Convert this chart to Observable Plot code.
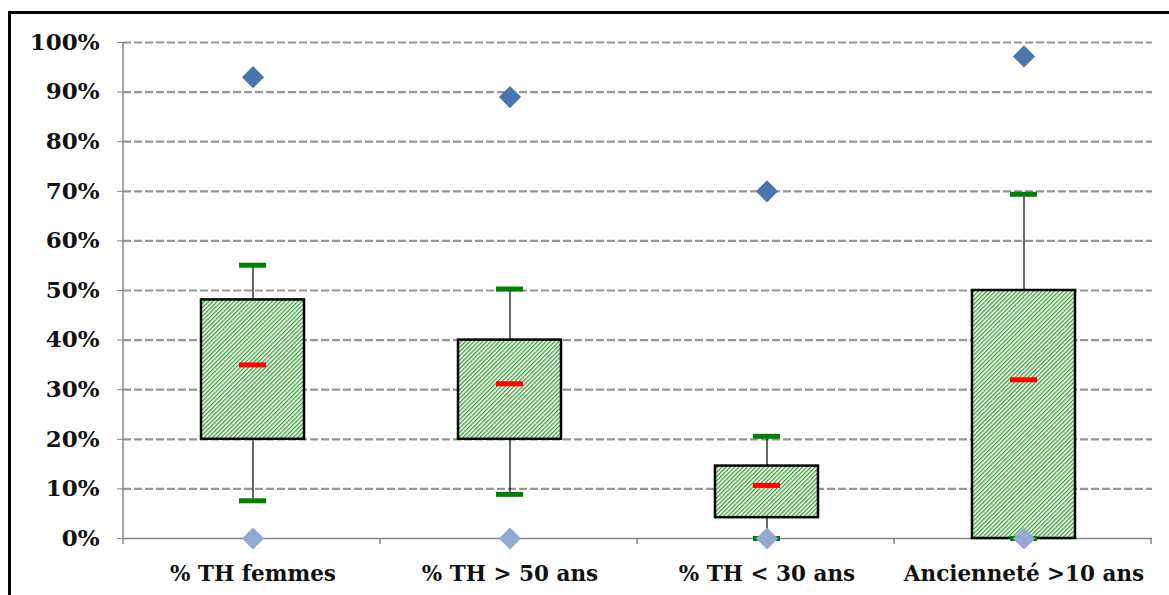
<!DOCTYPE html>
<html><head><meta charset="utf-8">
<script src="https://cdn.jsdelivr.net/npm/d3@7"></script>
<script src="https://cdn.jsdelivr.net/npm/@observablehq/plot@0.6"></script>
<style>
html,body{margin:0;padding:0;background:#fff;width:1169px;height:595px;overflow:hidden;position:relative}
#border{position:absolute;left:8px;top:11px;width:2000px;height:2000px;border:3px solid #000;box-sizing:border-box}
#chart{position:absolute;left:0;top:0}
</style></head><body>
<div id="border"></div><div id="chart"></div>
<script>
const categories = ["% TH femmes", "% TH > 50 ans", "% TH < 30 ans", "Ancienneté >10 ans"];
const maxValues = [0.93, 0.89, 0.70, 0.972];
const whiskerHigh = [0.551, 0.503, 0.206, 0.694];
const q3Values = [0.481, 0.40, 0.146, 0.50];
const medianValues = [0.35, 0.312, 0.107, 0.32];
const q1Values = [0.20, 0.20, 0.042, 0.00];
const whiskerLow = [0.076, 0.089, 0.00, 0.00];
const minValues = [0, 0, 0, 0];
const yTicks = [0, 0.1, 0.2, 0.3, 0.4, 0.5, 0.6, 0.7, 0.8, 0.9, 1.0];

const rows = categories.map((c, i) => ({
  cat: c, max: maxValues[i], hi: whiskerHigh[i], q3: q3Values[i],
  med: medianValues[i], q1: q1Values[i], lo: whiskerLow[i], min: minValues[i]
}));

const font = "'DejaVu Serif', serif";
const plot = Plot.plot({
  width: 1169, height: 595,
  marginLeft: 123, marginRight: 17, marginTop: 42, marginBottom: 57,
  style: {background: "transparent", fontFamily: font, overflow: "visible"},
  x: {domain: categories, padding: 0, label: null},
  y: {domain: [0, 1], label: null},
  marks: [
    Plot.ruleY(yTicks.filter(d => d > 0), {stroke: "#959595", strokeWidth: 2.2, strokeDasharray: "8,3"}),
    Plot.ruleY([0], {stroke: "#868686", strokeWidth: 1.5}),
    Plot.axisY({ticks: yTicks, tickFormat: d3.format(".0%"), tickSize: 6, tickPadding: 18,
      stroke: "#868686", fill: "#111", fontSize: 23, fontWeight: "bold", label: null}),
    Plot.axisX({tickSize: 0, tickPadding: 27, fontSize: 21.5, fontWeight: "bold", fill: "#111", label: null}),
    Plot.ruleX(rows, {x: "cat", y1: "q3", y2: "hi", stroke: "#000", strokeWidth: 1.2}),
    Plot.ruleX(rows, {x: "cat", y1: "lo", y2: "q1", stroke: "#000", strokeWidth: 1.2}),
    Plot.barY(rows, {x: "cat", y1: "q1", y2: "q3", fill: "url(#hatch)", stroke: "#000", strokeWidth: 2.5, insetLeft: 77, insetRight: 77}),
    Plot.tickY(rows, {x: "cat", y: "hi", stroke: "#008000", strokeWidth: 5, insetLeft: 115, insetRight: 115}),
    Plot.tickY(rows, {x: "cat", y: "lo", stroke: "#008000", strokeWidth: 5, insetLeft: 115, insetRight: 115}),
    Plot.tickY(rows, {x: "cat", y: "med", stroke: "#ff0000", strokeWidth: 5, insetLeft: 115, insetRight: 115}),
    Plot.dot(rows, {x: "cat", y: "max", symbol: "diamond2", r: 10, fill: "#4A76AB", stroke: "none"}),
    Plot.dot(rows, {x: "cat", y: "min", symbol: "diamond2", r: 10, fill: "#93A9D1", stroke: "none"})
  ]
});

// hatch pattern for the boxes (diagonal green stripes on white)
const svg = d3.select(plot);
const pat = svg.insert("defs", ":first-child").append("pattern")
  .attr("id", "hatch").attr("patternUnits", "userSpaceOnUse")
  .attr("width", 3).attr("height", 3)
  .attr("patternTransform", "rotate(45)");
pat.append("rect").attr("width", 3).attr("height", 3).attr("fill", "#ffffff");
pat.append("rect").attr("width", 1.4).attr("height", 3).attr("fill", "#3fa03f");

// Excel-like y axis line and category boundary ticks, from the plot's own scales
const xs = plot.scale("x"), ys = plot.scale("y");
const x0 = xs.range[0], step = xs.step;
const yTop = ys.apply(1), yBot = ys.apply(0);
const g = svg.append("g").attr("stroke", "#868686").attr("stroke-width", 1.5);
g.append("line").attr("x1", x0).attr("x2", x0).attr("y1", yTop).attr("y2", yBot + 6);
for (let i = 1; i <= categories.length; i++) {
  const bx = x0 + i * step;
  g.append("line").attr("x1", bx).attr("x2", bx).attr("y1", yBot).attr("y2", yBot + 6);
}
// bring diamonds to the front
svg.selectAll("g[aria-label=dot]").raise();

document.getElementById("chart").appendChild(plot);
</script>
</body></html>
